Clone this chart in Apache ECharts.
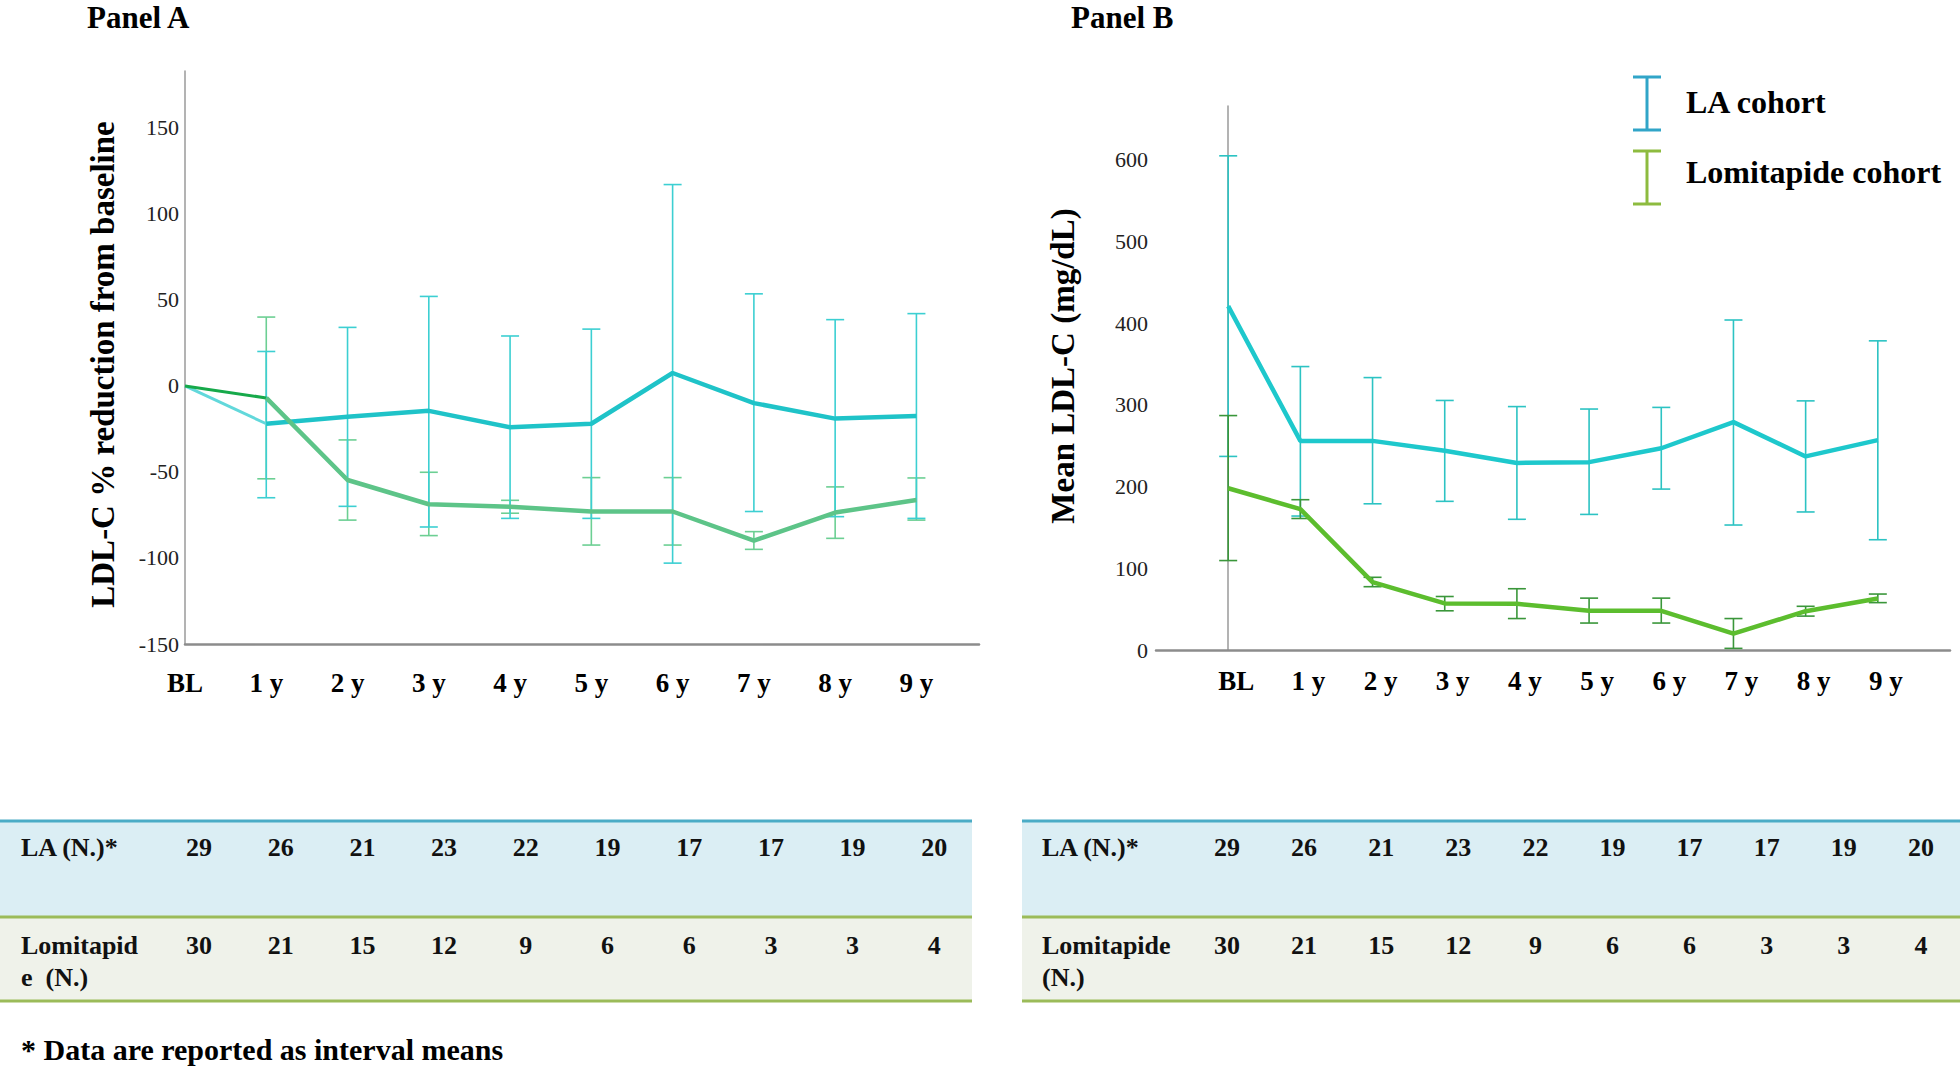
<!DOCTYPE html>
<html><head><meta charset="utf-8">
<script src="https://cdn.jsdelivr.net/npm/echarts@6/dist/echarts.min.js"></script>
<style>html,body{margin:0;padding:0;background:#fff}#c{width:1960px;height:1068px}</style>
</head><body><div id="c"></div>
<script>
// ---------- data ----------
const xLabels = ['BL','1 y','2 y','3 y','4 y','5 y','6 y','7 y','8 y','9 y'];
const yTicksA = [-150,-100,-50,0,50,100,150];
const yTicksB = [0,100,200,300,400,500,600];

// Panel A: LDL-C % reduction from baseline (mean, lower, upper)
const aLaMean = [0,-22,-18,-14.5,-24,-22,7.5,-10,-19,-17.5];
const aLaLow  = [null,-65,-70,-82,-77,-77,-103,-73,-76,-77];
const aLaHigh = [null,20,34,52,29,33,117,53.5,38.5,42];
const aLoMean = [0,-7,-54.7,-68.8,-70.2,-73,-73,-89.9,-73.6,-66.3];
const aLoLow  = [null,-54,-78,-87,-74,-92.5,-92.5,-95,-88.6,-78];
const aLoHigh = [null,40,-31.4,-50.2,-66.5,-53.3,-53.3,-84.7,-58.7,-53.5];

// Panel B: Mean LDL-C (mg/dL)
const bLaMean = [421,256,256,244,229,230,247,279,237,257];
const bLaLow  = [237,164,179,182,160,166,197,153,169,135];
const bLaHigh = [605,347,333.5,305.5,298,295,297,404,305,378.5];
const bLoMean = [198,172.5,83,57,56.5,48,48,20,47.5,63];
const bLoLow  = [109.5,161,77.5,48,38.5,33,33,2,41.5,58];
const bLoHigh = [287,184,89,65.5,75,63.5,63.5,38.5,53.5,68.5];

// Table counts
const tableRowLabelLA = 'LA (N.)*';
const laCounts = [29,26,21,23,22,19,17,17,19,20];
const loCounts = [30,21,15,12,9,6,6,3,3,4];
const footnote = '* Data are reported as interval means';
const legendNames = ['LA cohort','Lomitapide cohort'];

// ---------- helpers ----------
const SERIF = '"Liberation Serif","Times New Roman",serif';
const pts = (arr, from, to) => arr.slice(from, to).map((v, i) => [i + from, v]);
const bars = (lo, hi) => lo.map((l, i) => l == null ? null : [i, l, hi[i]]).filter(d => d);

function errSeries(name, xi, yi, data, color, capW, lw) {
  return {
    name, type: 'custom', xAxisIndex: xi, yAxisIndex: yi, z: 2, silent: true,
    encode: { x: 0, y: [1, 2] }, data,
    renderItem(params, api) {
      const x = api.value(0);
      const p1 = api.coord([x, api.value(2)]);
      const p2 = api.coord([x, api.value(1)]);
      const hw = capW / 2;
      const st = { stroke: color, lineWidth: lw, fill: null };
      return { type: 'group', children: [
        { type: 'line', shape: { x1: p1[0], y1: p1[1], x2: p2[0], y2: p2[1] }, style: st },
        { type: 'line', shape: { x1: p1[0] - hw, y1: p1[1], x2: p1[0] + hw, y2: p1[1] }, style: st },
        { type: 'line', shape: { x1: p2[0] - hw, y1: p2[1], x2: p2[0] + hw, y2: p2[1] }, style: st }
      ]};
    }
  };
}
function lineSeries(name, xi, yi, data, color, w) {
  return { name, type: 'line', xAxisIndex: xi, yAxisIndex: yi, z: 3, data,
    symbol: 'none', silent: true, lineStyle: { color, width: w }, itemStyle: { color } };
}
function xLabelFmt(v) { return (Number.isInteger(v) && v >= 0 && v < xLabels.length) ? xLabels[v] : ''; }

// ---------- tables ----------
function table(x0, x1, labelX, colX0, colStep, row2a, row2b) {
  const els = [];
  const w = x1 - x0;
  els.push({ type: 'rect', shape: { x: x0, y: 822, width: w, height: 94 }, style: { fill: '#dbeef4' } });
  els.push({ type: 'rect', shape: { x: x0, y: 918, width: w, height: 82 }, style: { fill: '#eff2ea' } });
  els.push({ type: 'line', shape: { x1: x0, y1: 821, x2: x1, y2: 821 }, style: { stroke: '#4bacc6', lineWidth: 3 } });
  els.push({ type: 'line', shape: { x1: x0, y1: 917, x2: x1, y2: 917 }, style: { stroke: '#9bbb59', lineWidth: 3 } });
  els.push({ type: 'line', shape: { x1: x0, y1: 1001, x2: x1, y2: 1001 }, style: { stroke: '#9bbb59', lineWidth: 3 } });
  const ts = { fontFamily: SERIF, fontWeight: 'bold', fontSize: 26, fill: '#111', verticalAlign: 'middle' };
  els.push({ type: 'text', style: Object.assign({ text: tableRowLabelLA, x: labelX, y: 847, align: 'left' }, ts) });
  els.push({ type: 'text', style: Object.assign({ text: row2a, x: labelX, y: 945, align: 'left' }, ts) });
  els.push({ type: 'text', style: Object.assign({ text: row2b, x: labelX, y: 977, align: 'left' }, ts) });
  laCounts.forEach((c, i) => els.push({ type: 'text', style: Object.assign({ text: String(c), x: colX0 + i * colStep, y: 847, align: 'center' }, ts) }));
  loCounts.forEach((c, i) => els.push({ type: 'text', style: Object.assign({ text: String(c), x: colX0 + i * colStep, y: 945, align: 'center' }, ts) }));
  return els;
}

// ---------- legend ----------
function legendItem(y0, color, label, textDy) {
  const cx = 1647, hw = 14, h = 53;
  const st = { stroke: color, lineWidth: 3 };
  return [
    { type: 'line', shape: { x1: cx, y1: y0, x2: cx, y2: y0 + h }, style: st },
    { type: 'line', shape: { x1: cx - hw, y1: y0, x2: cx + hw, y2: y0 }, style: st },
    { type: 'line', shape: { x1: cx - hw, y1: y0 + h, x2: cx + hw, y2: y0 + h }, style: st },
    { type: 'text', style: { text: label, x: 1686, y: y0 + textDy, align: 'left', verticalAlign: 'middle',
      fontFamily: SERIF, fontWeight: 'bold', fontSize: 32, fill: '#000' } }
  ];
}

const axisCommonY = {
  type: 'value', splitLine: { show: false }, axisTick: { show: false },
  axisLine: { show: true, lineStyle: { color: '#9a9a9a', width: 1.5 } },
  axisLabel: { fontFamily: SERIF, fontSize: 22, color: '#222' },
  nameLocation: 'middle', nameRotate: 90,
  nameTextStyle: { fontFamily: SERIF, fontWeight: 'bold', fontSize: 33, color: '#000' }
};
const axisCommonX = {
  type: 'value', interval: 1, splitLine: { show: false }, axisTick: { show: false },
  axisLine: { show: true, onZero: false, lineStyle: { color: '#8c8c8c', width: 2.5 } },
  axisLabel: { fontFamily: SERIF, fontWeight: 'bold', fontSize: 27, color: '#000', formatter: xLabelFmt, showMaxLabel: false, showMinLabel: true }
};

const chart = echarts.init(document.getElementById('c'), null, { renderer: 'svg' });
chart.setOption({
  animation: false,
  backgroundColor: '#fff',
  grid: [
    { left: 185, top: 71, width: 794, height: 573 },
    { left: 1156, top: 106, width: 794, height: 544 }
  ],
  xAxis: [
    Object.assign({}, axisCommonX, { gridIndex: 0, min: 0, max: 9.77,
      axisLabel: Object.assign({}, axisCommonX.axisLabel, { margin: 25 }) }),
    Object.assign({}, axisCommonX, { gridIndex: 1, min: -1, max: 10,
      axisLabel: Object.assign({}, axisCommonX.axisLabel, { margin: 17, padding: [0, 0, 0, 16] }) })
  ],
  yAxis: [
    Object.assign({}, axisCommonY, { gridIndex: 0, min: -150, max: 183, interval: 50,
      name: 'LDL-C % reduction from baseline', nameGap: 66,
      nameTextStyle: Object.assign({}, axisCommonY.nameTextStyle, { padding: [0, 14, 0, 0] }),
      axisLabel: Object.assign({}, axisCommonY.axisLabel, { margin: 6,
        formatter: v => yTicksA.includes(v) ? String(v) : '' }) }),
    Object.assign({}, axisCommonY, { gridIndex: 1, min: 0, max: 666, interval: 100,
      name: 'Mean LDL-C (mg/dL)', nameGap: 77,
      nameTextStyle: Object.assign({}, axisCommonY.nameTextStyle, { padding: [0, 0, 0, 24] }),
      axisLabel: Object.assign({}, axisCommonY.axisLabel, { margin: 8,
        formatter: v => yTicksB.includes(v) ? String(v) : '' }) })
  ],
  series: [
    // Panel A
    errSeries('Lomitapide cohort', 0, 0, bars(aLoLow, aLoHigh), '#6ccf93', 18, 1.6),
    errSeries('LA cohort', 0, 0, bars(aLaLow, aLaHigh), '#3ccfd2', 18, 1.6),
    lineSeries('LA cohort', 0, 0, pts(aLaMean, 0, 2), '#62d8db', 3),
    lineSeries('LA cohort', 0, 0, pts(aLaMean, 1, 10), '#1fc3c8', 4.5),
    lineSeries('Lomitapide cohort', 0, 0, pts(aLoMean, 0, 2), '#16a94a', 3),
    lineSeries('Lomitapide cohort', 0, 0, pts(aLoMean, 1, 10), '#5dc488', 4.5),
    // Panel B
    errSeries('LA cohort', 1, 1, bars(bLaLow, bLaHigh), '#2cc3c3', 18, 1.6),
    errSeries('Lomitapide cohort', 1, 1, bars(bLoLow, bLoHigh), '#3a963a', 18, 1.6),
    lineSeries('LA cohort', 1, 1, pts(bLaMean, 0, 10), '#1ec8cc', 4.5),
    lineSeries('Lomitapide cohort', 1, 1, pts(bLoMean, 0, 10), '#5cbd2e', 4.5)
  ],
  graphic: [].concat(
    [{ type: 'text', style: { text: 'Panel A', x: 87, y: 17, verticalAlign: 'middle', fontFamily: SERIF, fontWeight: 'bold', fontSize: 31, fill: '#000' } },
     { type: 'text', style: { text: 'Panel B', x: 1071, y: 17, verticalAlign: 'middle', fontFamily: SERIF, fontWeight: 'bold', fontSize: 31, fill: '#000' } }],
    legendItem(77, '#31a5c8', legendNames[0], 25),
    legendItem(151, '#8dbb3f', legendNames[1], 21),
    table(0, 972, 21, 199, 81.7, 'Lomitapid', 'e  (N.)'),
    table(1022, 1960, 1042, 1227, 77.1, 'Lomitapide', '(N.)'),
    [{ type: 'text', style: { text: footnote, x: 21, y: 1049, verticalAlign: 'middle', fontFamily: SERIF, fontWeight: 'bold', fontSize: 30, fill: '#000' } }]
  )
});
</script></body></html>
